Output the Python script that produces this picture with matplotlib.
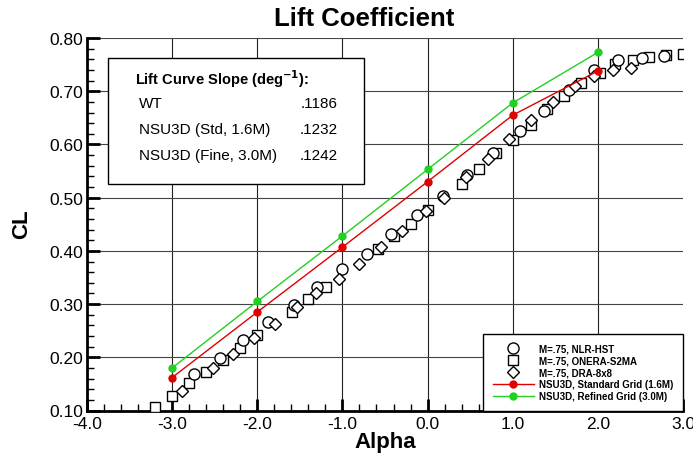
import matplotlib
matplotlib.use('Agg')
import matplotlib.pyplot as plt
from matplotlib.lines import Line2D
from matplotlib.patches import Rectangle
import numpy as np

# wind tunnel data
nlr_alpha = [-2.74, -2.44, -2.17, -1.88, -1.57, -1.30, -1.00, -0.71, -0.43, -0.12,
             0.18, 0.46, 0.77, 1.08, 1.37, 1.66, 1.96, 2.24, 2.52, 2.78]
nlr_cl = [0.169, 0.199, 0.233, 0.266, 0.299, 0.332, 0.365, 0.395, 0.431, 0.467,
          0.503, 0.542, 0.583, 0.625, 0.663, 0.702, 0.739, 0.759, 0.762, 0.766]

onera_alpha = [-3.20, -3.00, -2.80, -2.60, -2.40, -2.20, -2.00, -1.59, -1.40, -1.19,
               -0.58, -0.40, -0.19, 0.01, 0.40, 0.60, 0.80, 1.00, 1.21, 1.40,
               1.60, 1.80, 2.02, 2.20, 2.41, 2.60, 2.80, 3.00]
onera_cl = [0.107, 0.128, 0.151, 0.172, 0.195, 0.218, 0.241, 0.286, 0.310, 0.332,
            0.404, 0.428, 0.450, 0.477, 0.526, 0.553, 0.583, 0.608, 0.636, 0.666,
            0.691, 0.715, 0.735, 0.751, 0.759, 0.764, 0.768, 0.770]

dra_alpha = [-2.89, -2.52, -2.29, -2.04, -1.79, -1.53, -1.31, -1.04, -0.81, -0.55,
             -0.30, -0.02, 0.19, 0.45, 0.71, 0.96, 1.21, 1.47, 1.73, 1.96, 2.18, 2.39]
dra_cl = [0.136, 0.180, 0.207, 0.236, 0.263, 0.294, 0.320, 0.348, 0.376, 0.407,
          0.438, 0.475, 0.500, 0.539, 0.573, 0.610, 0.646, 0.680, 0.710, 0.728, 0.739, 0.743]

# NSU3D
cfd_alpha = [-3.0, -2.0, -1.0, 0.0, 1.0, 2.0]
std_cl = [0.162, 0.285, 0.407, 0.530, 0.655, 0.738]
fine_cl = [0.180, 0.305, 0.428, 0.553, 0.678, 0.773]

slope_labels = ['WT', 'NSU3D (Std, 1.6M)', 'NSU3D (Fine, 3.0M)']
slope_values = ['.1186', '.1232', '.1242']

plt.rcParams['font.family'] = ['Liberation Sans', 'DejaVu Sans']
plt.rcParams['axes.unicode_minus'] = False

red = '#e00000'
green = '#22d022'

fig = plt.figure(figsize=(6.93, 4.56), dpi=100)
ax = fig.add_axes([87/693, 1-411.5/456, 596/693, 372.5/456])

ax.set_xlim(-4.0, 3.0)
ax.set_ylim(0.10, 0.80)

# grid
for gx in [-3, -2, -1, 0, 1, 2]:
    ax.axvline(gx, color='#222222', lw=0.8, zorder=0)
for gy in [0.2, 0.3, 0.4, 0.5, 0.6, 0.7, 0.8]:
    ax.axhline(gy, color='#444444', lw=0.8, zorder=0)

ms_kw = dict(ls='none', mfc='white', mec='black', mew=1.0)
ax.plot(onera_alpha, onera_cl, marker='s', ms=7.0, **ms_kw, zorder=3)
ax.plot(nlr_alpha, nlr_cl, marker='o', ms=8.0, **ms_kw, zorder=3)
ax.plot(dra_alpha, dra_cl, marker='D', ms=6.3, **ms_kw, zorder=3)

ax.plot(cfd_alpha, std_cl, color=red, lw=1.0, marker='o', ms=5, mec=red, zorder=4)
ax.plot(cfd_alpha, fine_cl, color=green, lw=1.0, marker='o', ms=5, mec=green, zorder=4)

ax.set_xticks(np.arange(-4, 3.01, 1.0))
ax.set_xticklabels(['-4.0', '-3.0', '-2.0', '-1.0', '0.0', '1.0', '2.0', '3.0'])
ax.set_xticks(np.arange(-4, 3.01, 0.2), minor=True)
ax.set_yticks(np.arange(0.1, 0.801, 0.1))
ax.set_yticklabels(['0.10', '0.20', '0.30', '0.40', '0.50', '0.60', '0.70', '0.80'])
ax.set_yticks(np.arange(0.1, 0.801, 0.02), minor=True)
ax.tick_params(which='major', direction='in', length=9, width=2, labelsize=12.5, pad=3)
ax.tick_params(which='minor', direction='in', length=5, width=1)
ax.tick_params(axis='x', which='major', pad=4)

for s in ['top', 'right']:
    ax.spines[s].set_visible(False)
for s in ['left', 'bottom']:
    ax.spines[s].set_linewidth(2)

ax.set_xlabel('Alpha', fontsize=16, fontweight='bold', labelpad=0)
fig.text(22/693, 1-224/456, 'CL', rotation=90, fontsize=16, fontweight='bold',
         ha='center', va='center')
fig.text(364/693, 1-19/456, 'Lift Coefficient', fontsize=18.5, fontweight='bold',
         ha='center', va='center')

# slope box
ax.add_patch(Rectangle((0.035, 0.608), 0.43, 0.338, transform=ax.transAxes,
                       facecolor='white', edgecolor='black', lw=1.0, zorder=5))
ax.text(0.0805, 0.893, 'Lift Curve Slope (deg$^{\\mathbf{-1}}$):', transform=ax.transAxes,
        fontsize=10.5, fontweight='bold', va='center', ha='left', zorder=6)
for i, (lab, val) in enumerate(zip(slope_labels, slope_values)):
    yy = 0.825 - i * 0.0695
    ax.text(0.087, yy, lab, transform=ax.transAxes, fontsize=11, va='center', zorder=6)
    ax.text(0.42, yy, val, transform=ax.transAxes, fontsize=11, va='center',
            ha='right', zorder=6)

handles = [
    Line2D([], [], ls='none', marker='o', ms=8, mfc='white', mec='black'),
    Line2D([], [], ls='none', marker='s', ms=7, mfc='white', mec='black'),
    Line2D([], [], ls='none', marker='D', ms=6.3, mfc='white', mec='black'),
    Line2D([], [], color=red, lw=1.0, marker='o', ms=5, mec=red),
    Line2D([], [], color=green, lw=1.0, marker='o', ms=5, mec=green),
]
labels = ['M=.75, NLR-HST', 'M=.75, ONERA-S2MA', 'M=.75, DRA-8x8',
          'NSU3D, Standard Grid (1.6M)', 'NSU3D, Refined Grid (3.0M)']
leg = ax.legend(handles, labels, loc='lower right', bbox_to_anchor=(1.0, 0.0),
                borderaxespad=0, fancybox=False, framealpha=1, edgecolor='black',
                prop={'size': 7, 'weight': 'bold'}, handlelength=4.2,
                labelspacing=0.2, handletextpad=0.6, borderpad=0.95)
leg.get_frame().set_linewidth(1.0)
leg.set_zorder(7)

fig.savefig('out.png', dpi=100)
